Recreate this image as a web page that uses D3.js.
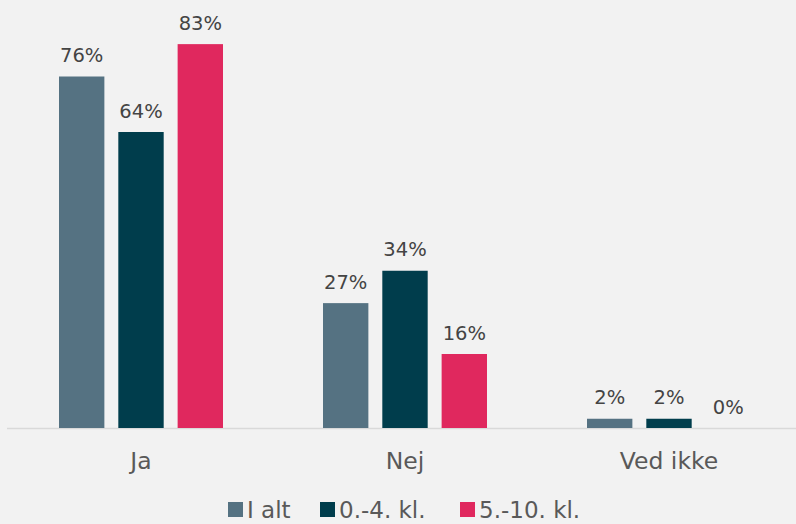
<!DOCTYPE html>
<html>
<head>
<meta charset="utf-8">
<script src="https://cdn.jsdelivr.net/npm/d3@7"></script>
<style>
	body { margin:0; background:#f2f2f2; }
	#bar-chart { width:796px; height:524px; }
	text { font-family:"DejaVu Sans", Verdana, sans-serif; }
</style>
</head>
<body>
<div id="bar-chart"></div>
<script>
var categories = ["Ja", "Nej", "Ved ikke"];
var seriesNames = ["I alt", "0.-4. kl.", "5.-10. kl."];
var iAlt = [76, 27, 2];
var kl0_4 = [64, 34, 2];
var kl5_10 = [83, 16, 0];
var colors = ["#557282", "#003d4c", "#e0285e"];

var dataset = categories.map(function(c, i){
	return { cat:c, values:[iAlt[i], kl0_4[i], kl5_10[i]] };
});

var dom = document.getElementById('bar-chart');
var width = dom.offsetWidth;
var height = dom.offsetHeight;

var svg = d3.select(dom)
	.append("svg")
	.attr("width", width)
	.attr("height", height);

svg.append("rect").attr("width", width).attr("height", height).attr("fill", "#f2f2f2");

var baseY = 428;

var xScale = d3.scaleBand()
	.domain(categories)
	.range([9, 801]);

var inner = d3.scaleBand()
	.domain(seriesNames)
	.range([-82, 82])
	.paddingInner(0.235);

var yScale = d3.scaleLinear()
	.domain([0, 90])
	.range([baseY, baseY - 416.25]);

// axis line
svg.append("line")
	.attr("x1", 7).attr("x2", 796)
	.attr("y1", baseY + 0.5).attr("y2", baseY + 0.5)
	.attr("stroke", "#d9d9d9")
	.attr("stroke-width", 1.5);

var groups = svg.selectAll(".grp")
	.data(dataset)
	.enter()
	.append("g")
	.attr("class", "grp")
	.attr("transform", function(d){ return "translate(" + (xScale(d.cat) + xScale.bandwidth() / 2) + ",0)"; });

groups.selectAll("rect")
	.data(function(d){ return d.values.map(function(v, i){ return { s:seriesNames[i], v:v, i:i }; }); })
	.enter()
	.append("rect")
	.attr("x", function(d){ return inner(d.s); })
	.attr("y", function(d){ return yScale(d.v); })
	.attr("width", inner.bandwidth())
	.attr("height", function(d){ return baseY - yScale(d.v); })
	.attr("fill", function(d){ return colors[d.i]; });

groups.selectAll(".lbl")
	.data(function(d){ return d.values.map(function(v, i){ return { s:seriesNames[i], v:v }; }); })
	.enter()
	.append("text")
	.attr("class", "lbl")
	.attr("x", function(d){ return inner(d.s) + inner.bandwidth() / 2; })
	.attr("y", function(d){ return yScale(d.v) - 14.5; })
	.attr("text-anchor", "middle")
	.attr("font-size", "19.5px")
	.attr("fill", "#444444")
	.text(function(d){ return d.v + "%"; });

// category labels
svg.selectAll(".cat")
	.data(categories)
	.enter()
	.append("text")
	.attr("class", "cat")
	.attr("x", function(d){ return xScale(d) + xScale.bandwidth() / 2; })
	.attr("y", 468.5)
	.attr("text-anchor", "middle")
	.attr("font-size", "23.5px")
	.attr("fill", "#595959")
	.text(function(d){ return d; });

// legend
var legendX = [228, 320, 460];
var leg = svg.selectAll(".leg")
	.data(seriesNames)
	.enter()
	.append("g")
	.attr("class", "leg")
	.attr("transform", function(d, i){ return "translate(" + legendX[i] + ",502)"; });

leg.append("rect")
	.attr("width", 15).attr("height", 15)
	.attr("fill", function(d, i){ return colors[i]; });

leg.append("text")
	.attr("x", 19)
	.attr("y", 15.5)
	.attr("font-size", "23px")
	.attr("fill", "#595959")
	.text(function(d){ return d; });
</script>
</body>
</html>
